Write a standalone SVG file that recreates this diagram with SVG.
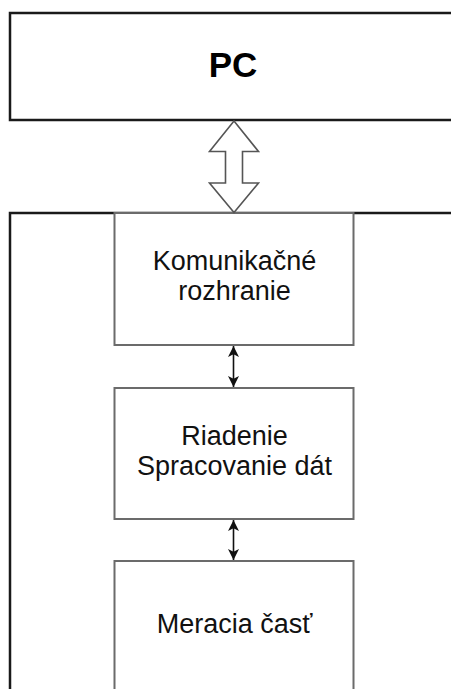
<svg xmlns="http://www.w3.org/2000/svg" width="451" height="689" viewBox="0 0 451 689">
  <style>
    .outer { fill: #ffffff; stroke: #1a1a1a; stroke-width: 2.5; }
    .block { fill: #ffffff; stroke: #6b6b6b; stroke-width: 2; }
    .label { font-family: "Liberation Sans", Arial, sans-serif; font-size: 27px; fill: #111111; text-anchor: middle; }
    .title { font-family: "Liberation Sans", Arial, sans-serif; font-size: 35px; font-weight: bold; fill: #000000; text-anchor: middle; }
    .bus { fill: #ffffff; stroke: #555555; stroke-width: 1.6; stroke-linejoin: miter; }
    .link { stroke: #111111; stroke-width: 1.6; fill: none; marker-start: url(#head); marker-end: url(#head); }
  </style>
  <defs>
    <marker id="head" viewBox="0 0 10 10" refX="10" refY="5" markerWidth="11" markerHeight="11" markerUnits="userSpaceOnUse" orient="auto-start-reverse">
      <path d="M0,0 L10,5 L0,10 L2.5,5 z" fill="#111111"/>
    </marker>
  </defs>

  <rect width="451" height="689" fill="#ffffff"/>

  <!-- host computer -->
  <g id="pc">
    <rect class="outer" x="10" y="13" width="460" height="107"/>
    <text class="title" x="233" y="77">PC</text>
  </g>

  <!-- device enclosure -->
  <g id="device">
    <rect class="outer" x="10" y="213" width="460" height="500"/>
  </g>

  <g id="komunikacne-rozhranie">
    <rect class="block" x="114.5" y="213" width="239" height="132"/>
    <text class="label" x="234.5" y="270">Komunikačné</text>
    <text class="label" x="234.5" y="300">rozhranie</text>
  </g>

  <g id="riadenie">
    <rect class="block" x="114.5" y="388" width="239" height="131"/>
    <text class="label" x="234.5" y="445">Riadenie</text>
    <text class="label" x="234.5" y="475">Spracovanie dát</text>
  </g>

  <g id="meracia-cast">
    <rect class="block" x="114.5" y="561" width="239" height="150"/>
    <text class="label" x="234.5" y="633">Meracia časť</text>
  </g>

  <!-- connectors -->
  <g id="connectors">
    <polygon class="bus" points="234,121 258.5,151.5 242.5,151.5 242.5,183 258.5,183 234,212.5 209.5,183 225.5,183 225.5,151.5 209.5,151.5"/>
    <line class="link" x1="233.5" y1="346" x2="233.5" y2="387"/>
    <line class="link" x1="233.5" y1="520" x2="233.5" y2="560"/>
  </g>
</svg>
